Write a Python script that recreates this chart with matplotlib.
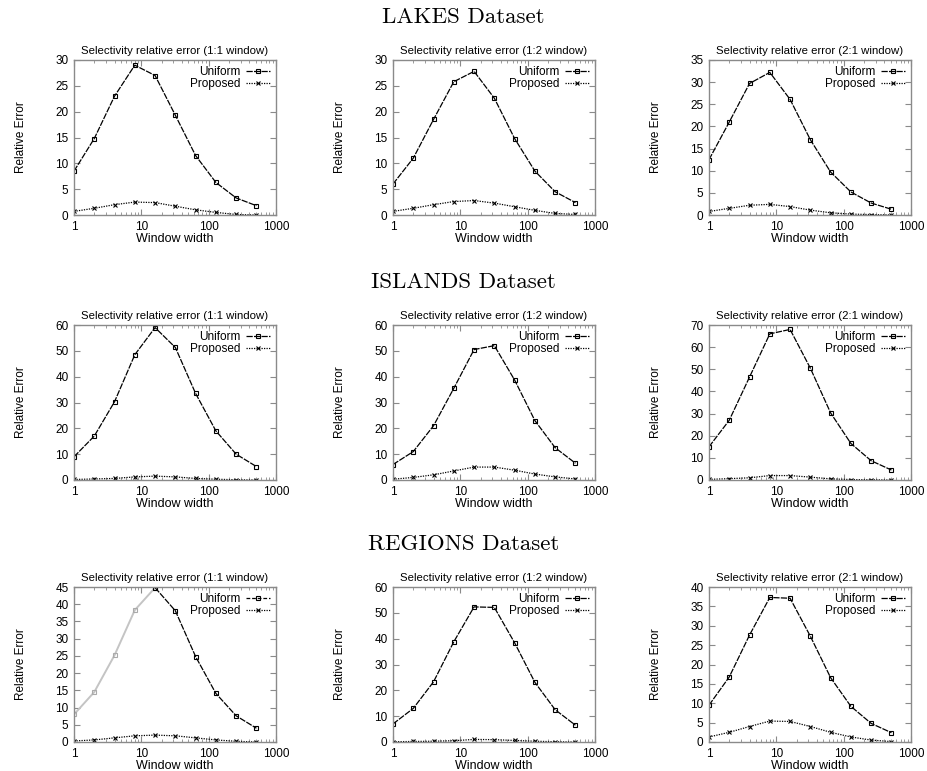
import matplotlib
matplotlib.use("Agg")
import matplotlib.pyplot as plt
import numpy as np

# window widths (log axis)
widths = [1, 2, 4, 8, 16, 32, 64, 128, 256, 512]

datasets = ["LAKES Dataset", "ISLANDS Dataset", "REGIONS Dataset"]
windows = ["1:1", "1:2", "2:1"]

# Uniform series, row = dataset, col = window shape
lakes_uniform_11 = [8.5, 14.8, 23.0, 29.0, 27.0, 19.3, 11.5, 6.3, 3.3, 1.8]
lakes_uniform_12 = [6.0, 11.0, 18.5, 25.8, 27.8, 22.6, 14.8, 8.5, 4.5, 2.4]
lakes_uniform_21 = [12.5, 21.0, 29.7, 32.2, 26.1, 17.0, 9.7, 5.2, 2.7, 1.3]
islands_uniform_11 = [9.0, 17.0, 30.3, 48.5, 59.0, 51.3, 33.5, 19.0, 10.0, 5.2]
islands_uniform_12 = [6.0, 11.0, 21.0, 35.5, 50.5, 52.0, 38.7, 23.0, 12.5, 6.5]
islands_uniform_21 = [15.0, 27.0, 46.5, 66.0, 68.0, 50.5, 30.3, 16.5, 8.7, 4.5]
regions_uniform_11 = [8.0, 14.5, 25.2, 38.3, 44.8, 38.1, 24.8, 14.1, 7.6, 4.0]
regions_uniform_12 = [7.0, 13.0, 23.3, 38.8, 52.3, 52.1, 38.4, 23.1, 12.5, 6.5]
regions_uniform_21 = [9.5, 16.8, 27.6, 37.3, 37.1, 27.3, 16.6, 9.2, 4.8, 2.4]

# Proposed series
lakes_prop_11 = [0.7, 1.3, 2.0, 2.5, 2.4, 1.7, 1.0, 0.5, 0.1, 0.0]
lakes_prop_12 = [0.7, 1.3, 2.0, 2.6, 2.8, 2.3, 1.6, 0.9, 0.3, 0.1]
lakes_prop_21 = [0.8, 1.5, 2.2, 2.4, 1.9, 1.1, 0.5, 0.2, 0.1, 0.0]
islands_prop_11 = [0.2, 0.4, 0.6, 1.2, 1.5, 1.2, 0.6, 0.3, 0.1, 0.0]
islands_prop_12 = [0.3, 1.0, 2.0, 3.5, 5.0, 5.0, 3.8, 2.3, 1.2, 0.4]
islands_prop_21 = [0.3, 0.6, 1.0, 2.0, 2.0, 1.3, 0.5, 0.2, 0.1, 0.0]
regions_prop_11 = [0.3, 0.6, 1.2, 1.8, 2.0, 1.8, 1.2, 0.6, 0.2, 0.0]
regions_prop_12 = [0.1, 0.2, 0.3, 0.5, 1.0, 0.9, 0.6, 0.3, 0.1, 0.0]
regions_prop_21 = [1.3, 2.5, 4.0, 5.4, 5.3, 4.0, 2.5, 1.3, 0.5, 0.1]

uniform = [[lakes_uniform_11, lakes_uniform_12, lakes_uniform_21],
           [islands_uniform_11, islands_uniform_12, islands_uniform_21],
           [regions_uniform_11, regions_uniform_12, regions_uniform_21]]
proposed = [[lakes_prop_11, lakes_prop_12, lakes_prop_21],
            [islands_prop_11, islands_prop_12, islands_prop_21],
            [regions_prop_11, regions_prop_12, regions_prop_21]]

ymax = [[30, 30, 35], [60, 60, 70], [45, 60, 40]]
ystep = [[5, 5, 5], [10, 10, 10], [5, 10, 5]]

plt.rcParams['font.family'] = ['Liberation Sans', 'DejaVu Sans']

W, H = 927, 771
fig = plt.figure(figsize=(W / 100, H / 100), dpi=100)

col_left = [74, 393, 709]
col_w = 202
row_top = [60, 325, 587]
row_h = 155
section_y = [17, 282, 544]

frame = "#8a8a8a"

for r in range(3):
    fig.text(0.5, 1 - section_y[r] / H, datasets[r], ha="center", va="center",
             family="cmr10", fontsize=16.5)
    for c in range(3):
        ax = fig.add_axes([col_left[c] / W, 1 - (row_top[r] + row_h) / H,
                           col_w / W, row_h / H])
        u = uniform[r][c]
        p = proposed[r][c]
        if r == 2 and c == 0:
            # faded scan on the rising part of this curve
            ax.plot(widths[:5], u[:5], color="#c4c4c4", lw=1.4,
                    marker="s", ms=3.5, mfc="none", mec="#aaaaaa", mew=0.8)
            ax.plot(widths[4:], u[4:], color="black", lw=0.9,
                    ls=(0, (5, 1)), marker="s", ms=3.5, mfc="none", mew=0.8)
            ax.plot([], [], color="black", lw=0.9, ls=(0, (3, 1.5)),
                    marker="s", ms=3, mfc="none", mew=0.8, label="Uniform")
        else:
            ax.plot(widths, u, color="black", lw=0.9, ls=(0, (5, 1)),
                    marker="s", ms=3.5, mfc="none", mew=0.8, label="Uniform")
        ax.plot(widths, p, color="black", lw=0.9, ls=(0, (1, 1)),
                marker="x", ms=3, mew=0.8, label="Proposed")

        ax.set_xscale("log")
        ax.set_xlim(1, 1000)
        ax.set_ylim(0, ymax[r][c])
        ax.set_yticks(np.arange(0, ymax[r][c] + 1, ystep[r][c]))
        ax.set_xticks([1, 10, 100, 1000])
        ax.set_xticklabels(["1", "10", "100", "1000"])
        ax.tick_params(which="both", direction="in", top=True, right=True,
                       labelsize=8.5, color=frame, pad=4)
        ax.tick_params(which="major", length=4)
        ax.tick_params(which="minor", length=2)
        for s in ax.spines.values():
            s.set_color(frame)
            s.set_linewidth(1.0)

        ax.set_title("Selectivity relative error (%s window)" % windows[c],
                     fontsize=8.2, pad=4)
        ax.set_xlabel("Window width", fontsize=9, labelpad=0)
        ax.set_ylabel("Relative Error", fontsize=8.5)
        ax.yaxis.set_label_coords(-0.235, 0.5)

        ax.legend(loc="upper right", markerfirst=False, frameon=False,
                  fontsize=8.5, handlelength=2.0, handletextpad=0.5,
                  labelspacing=0.05, borderaxespad=0.3, borderpad=0.2)

fig.savefig("out.png", dpi=100)
